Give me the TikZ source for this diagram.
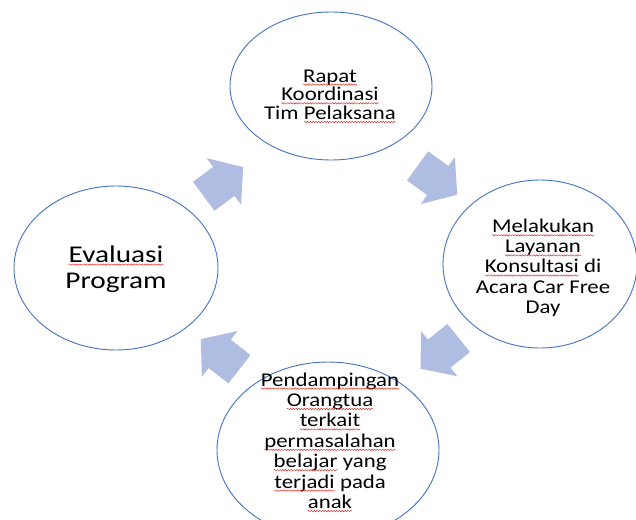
\documentclass[tikz,border=0pt]{standalone}
\usepackage{fontspec}
\setmainfont{Carlito}[FakeStretch=1.17]
\newfontfamily\bigfont{Carlito}[FakeStretch=1.22]
\usetikzlibrary{shapes.geometric,decorations.pathmorphing}
\definecolor{ringblue}{HTML}{4472C4}
\definecolor{arrowfill}{HTML}{B0BDE2}
\definecolor{waved}{HTML}{E02828}
\tikzset{
  ring/.style={ellipse, draw=ringblue, line width=0.9pt, inner sep=0pt},
  txt/.style={anchor=base, inner sep=0pt, font=\fontsize{19.5}{20}\selectfont, text=black},
  bigtxt/.style={anchor=base, inner sep=0pt, font=\bigfont\fontsize{24}{27}\selectfont, text=black},
  sqline/.style={draw=waved, line width=0.45pt, decorate, decoration={snake, amplitude=0.7pt, segment length=2.8pt}},
  cycarrow/.pic={\fill[arrowfill] (-24,-18) -- (1,-18) -- (1,-29) -- (25,0) -- (1,29) -- (1,18) -- (-24,18) -- cycle;}
}
\newcommand\sq[1]{\tikz[baseline=(sqw.base)]{\node[anchor=center, inner sep=0pt, outer sep=0pt, draw=none] (sqw) {#1};\draw[sqline] ([yshift=-2.6pt]sqw.base west) -- ([yshift=-2.6pt]sqw.base east);}}
\begin{document}
\begin{tikzpicture}[x=1pt, y=-1pt]
\useasboundingbox (0,0) rectangle (636,519);
\fill[white] (0,0) rectangle (636,519);
% rings
\node[ring, minimum width=202pt, minimum height=148pt] (top) at (331,86) {};
\node[ring, minimum width=194pt, minimum height=168pt] (right) at (540,264) {};
\node[ring, minimum width=222pt, minimum height=176pt] (bottom) at (328,450) {};
\node[ring, minimum width=204pt, minimum height=164pt] (left) at (116,268) {};
% arrows
\pic[rotate=-36] at (437,180) {cycarrow};
\pic[rotate=218.8] at (440,353) {cycarrow};
\pic[rotate=142] at (220.5,354.5) {cycarrow};
\pic[rotate=36.5] at (223,182) {cycarrow};
% top text
\node[txt] (t1) at (330,82) {\sq{Rapat}};
\node[txt] (t2) at (330,100.7) {\sq{Koordinasi}};
\node[txt] (t3) at (330,119.4) {Tim \sq{Pelaksana}};
% right text
\node[txt] (r1) at (543,232.7) {\sq{Melakukan}};
\node[txt] (r2) at (543,252.8) {\sq{Layanan}};
\node[txt] (r3) at (543,272.9) {\sq{Konsultasi} di};
\node[txt] (r4) at (543,293) {Acara Car Free};
\node[txt] (r5) at (543,313) {Day};
% bottom text
\node[txt] (b1) at (330,386) {\sq{Pendampingan}};
\node[txt] (b2) at (330,406.4) {\sq{Orangtua}};
\node[txt] (b3) at (330,426.8) {\sq{terkait}};
\node[txt] (b4) at (330,447.2) {\sq{permasalahan}};
\node[txt] (b5) at (330,467.6) {\sq{belajar} yang};
\node[txt] (b6) at (330,488) {\sq{terjadi} pada};
\node[txt] (b7) at (330,508.4) {\sq{anak}};
% left text
\node[bigtxt] (l1) at (116,262) {\sq{Evaluasi}};
\node[bigtxt] (l2) at (116,288.5) {Program};
\end{tikzpicture}
\end{document}
